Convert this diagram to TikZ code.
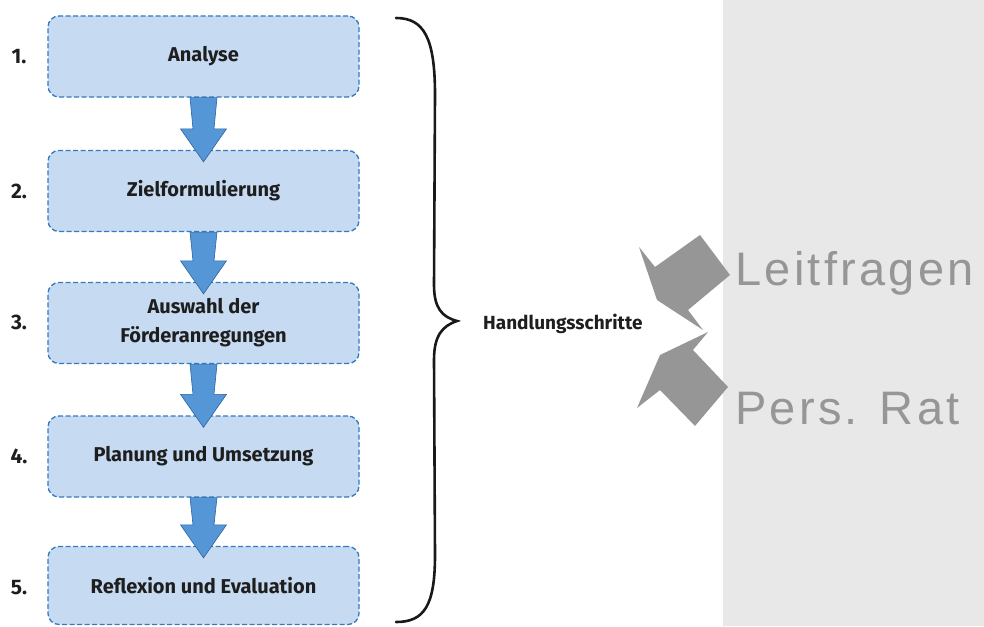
\documentclass[tikz,border=0pt]{standalone}
\usepackage{fontspec}
\setmainfont{Fira Sans}
\newfontfamily\hintfont[LetterSpace=7]{Liberation Sans}
\usetikzlibrary{calc}

\definecolor{boxfill}{RGB}{198,218,242}
\definecolor{boxline}{RGB}{52,122,190}
\definecolor{flowblue}{RGB}{84,150,214}
\definecolor{flowedge}{RGB}{45,100,160}
\definecolor{panelgray}{RGB}{232,232,232}
\definecolor{hintgray}{RGB}{150,150,150}
\definecolor{inkdark}{RGB}{30,30,30}

\tikzset{
  stepbox/.style={draw=boxline, fill=boxfill, line width=1.3pt,
    dash pattern=on 5pt off 2.5pt, rounded corners=11pt,
    minimum width=311pt, minimum height=81pt, inner sep=0pt,
    align=center, text=inkdark, font=\bfseries\fontsize{20}{29}\selectfont},
  stepnum/.style={text=inkdark, font=\bfseries\fontsize{21}{22}\selectfont, inner sep=0pt},
  flowarrow/.style={fill=flowblue, draw=flowedge, line width=0.6pt, line join=miter},
  hintarrow/.style={fill=hintgray},
  hinttext/.style={text=hintgray, inner sep=0pt, font=\hintfont\fontsize{47}{50}\selectfont},
}

% block arrow from the bottom of one step to just inside the top of the next
\newcommand\stepflow[2]{%
  \path[flowarrow] let \p1=(#1.south), \p2=(#2.north) in
    (\x1-13.5pt,\y1) -- (\x1+13.5pt,\y1) -- (\x1+10.5pt,\y2+21pt)
    -- (\x1+23pt,\y2+21pt) -- (\x1,\y2-12pt) -- (\x1-23pt,\y2+21pt)
    -- (\x1-10.5pt,\y2+21pt) -- cycle;}

\begin{document}
\begin{tikzpicture}[x=1pt,y=-1pt]
  \useasboundingbox (0,0) rectangle (984,626);

  % grey side panel
  \fill[panelgray] (723,0) rectangle (984,626);

  % steps
  \node[stepbox] (s1) at (203.5,56.5) {Analyse};
  \node[stepbox] (s2) at (203.5,191) {Zielformulierung};
  \node[stepbox] (s3) at (203.5,323) {Auswahl der\\Förderanregungen};
  \node[stepbox] (s4) at (203.5,456.5) {Planung und Umsetzung};
  \node[stepbox, minimum height=78pt] (s5) at (203.5,585.5) {Reflexion und Evaluation};

  \node[stepnum] (n1) at (19,57) {1.};
  \node[stepnum] (n2) at (19,191) {2.};
  \node[stepnum] (n3) at (19,322) {3.};
  \node[stepnum] (n4) at (19,456) {4.};
  \node[stepnum] (n5) at (19,588) {5.};

  \stepflow{s1}{s2}
  \stepflow{s2}{s3}
  \stepflow{s3}{s4}
  \stepflow{s4}{s5}

  % curly brace grouping the steps
  \draw[black!90, line width=2.6pt, line cap=round]
    (396,18) .. controls (424,18) and (435,38) .. (435,95)
    -- (434,285) .. controls (434,308) and (442,317) .. (457,321)
    .. controls (442,326) and (434,336) .. (434,360)
    -- (435,555) .. controls (435,606) and (424,622) .. (396,622);

  \node[anchor=west, inner sep=0pt, text=inkdark,
        font=\bfseries\fontsize{19}{20}\selectfont] (hs) at (483,324) {Handlungsschritte};

  % hint arrows and texts
  \fill[hintarrow] (700,235) -- (730,275) -- (688,310) -- (703,330)
    -- (657,300) -- (639,247) -- (655,267) -- cycle;
  \fill[hintarrow] (708,332) -- (693,350) -- (728,387) -- (695,426)
    -- (660,390) -- (637,408) -- (660,355) -- cycle;

  \node[hinttext, anchor=base west] (lf) at (735,285) {Leitfragen};
  \node[hinttext, anchor=base west] (pr) at (735,424) {Pers. Rat};
\end{tikzpicture}
\end{document}
